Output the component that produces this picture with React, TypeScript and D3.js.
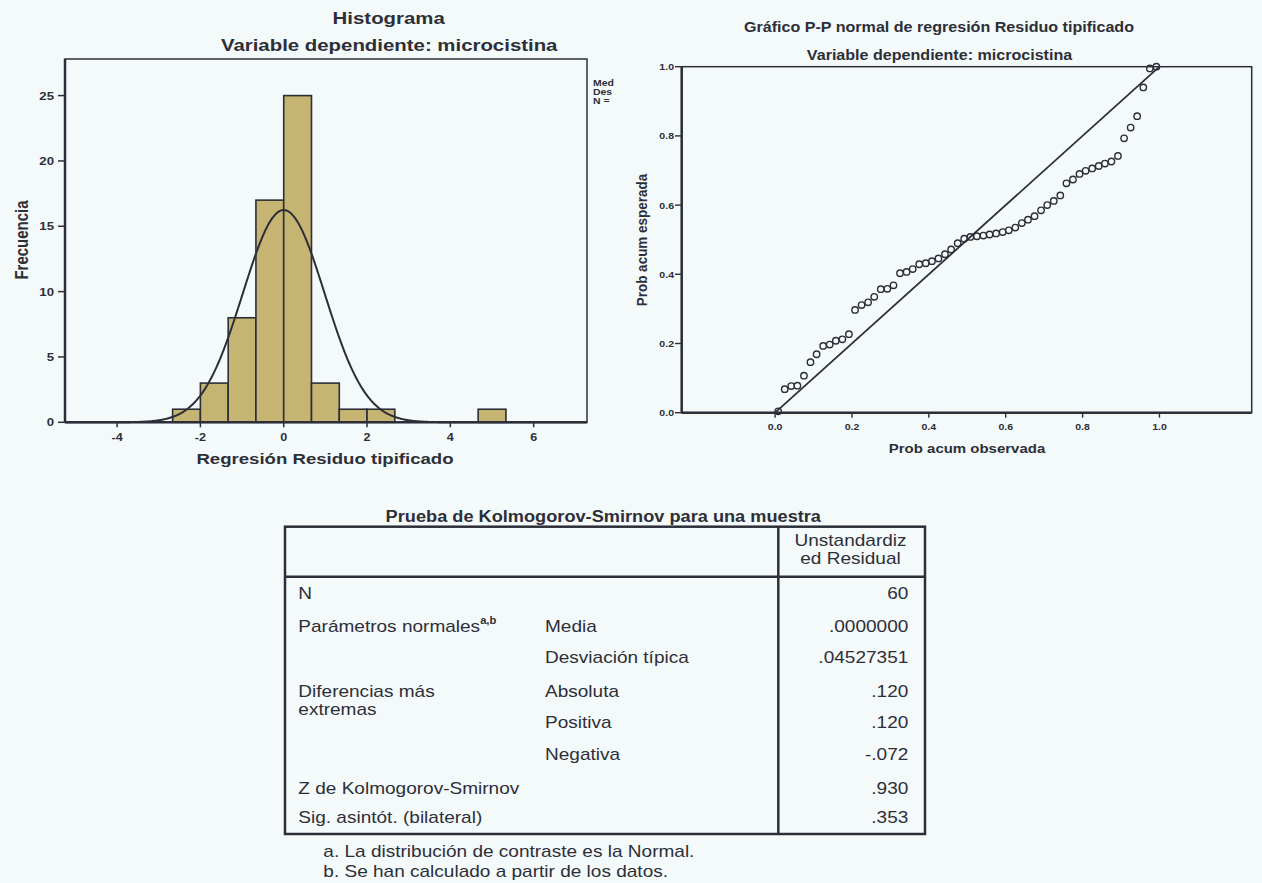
import React from 'react';
import * as d3 from 'd3';

const W = 1262;
const H = 883;
const FONT = "'Liberation Sans', Arial, Helvetica, sans-serif";
const INK = '#2d2f38';
const BG = '#f4f9fa';
const BAR_FILL = '#c6b472';

// ---------- Histogram data ----------
const histTitle = 'Histograma';
const depTitle = 'Variable dependiente: microcistina';
const histXLabel = 'Regresión Residuo tipificado';
const histYLabel = 'Frecuencia';
const binStarts = [-2.667, -2.0, -1.333, -0.667, 0, 0.667, 1.333, 2.0, 4.667];
const binWidth = 0.667;
const binCounts = [1, 3, 8, 17, 25, 3, 1, 1, 1];
const histXTicks = [-4, -2, 0, 2, 4, 6];
const histYTicks = [0, 5, 10, 15, 20, 25];
const normalMean = 0;
const normalSd = 0.983;
const nObs = 60;
const legendLines = ['Med', 'Des', 'N ='];

// ---------- P-P plot data ----------
const ppTitle = 'Gráfico P-P normal de regresión Residuo tipificado';
const ppXLabel = 'Prob acum observada';
const ppYLabel = 'Prob acum esperada';
const ppTicks = [0, 0.2, 0.4, 0.6, 0.8, 1.0];
const obsProb = [
  0.008, 0.025, 0.042, 0.058, 0.075, 0.092, 0.108, 0.125, 0.142, 0.158,
  0.175, 0.192, 0.208, 0.225, 0.242, 0.258, 0.275, 0.292, 0.308, 0.325,
  0.342, 0.358, 0.375, 0.392, 0.408, 0.425, 0.442, 0.458, 0.475, 0.492,
  0.508, 0.525, 0.542, 0.558, 0.575, 0.592, 0.608, 0.625, 0.642, 0.658,
  0.675, 0.692, 0.708, 0.725, 0.742, 0.758, 0.775, 0.792, 0.808, 0.825,
  0.842, 0.858, 0.875, 0.892, 0.908, 0.925, 0.942, 0.958, 0.975, 0.992,
];
const expProb = [
  0.004, 0.068, 0.077, 0.078, 0.107, 0.146, 0.169, 0.193, 0.197, 0.208,
  0.212, 0.227, 0.297, 0.311, 0.319, 0.335, 0.357, 0.358, 0.368, 0.403,
  0.407, 0.415, 0.429, 0.432, 0.438, 0.446, 0.458, 0.472, 0.490, 0.503,
  0.508, 0.510, 0.512, 0.515, 0.518, 0.522, 0.527, 0.535, 0.548, 0.558,
  0.568, 0.585, 0.600, 0.612, 0.628, 0.663, 0.674, 0.690, 0.699, 0.706,
  0.713, 0.720, 0.726, 0.742, 0.793, 0.824, 0.857, 0.940, 0.995, 1.000,
];

// ---------- Table data ----------
const tableTitle = 'Prueba de Kolmogorov-Smirnov para una muestra';
const colHeader = ['Unstandardiz', 'ed Residual'];
const rowLabels = ['N', 'Parámetros normales', '', 'Diferencias más', '', '', 'Z de Kolmogorov-Smirnov', 'Sig. asintót. (bilateral)'];
const rowLabelSup = ['', 'a,b', '', '', '', '', '', ''];
const rowLabelCont = ['', '', '', 'extremas', '', '', '', ''];
const subLabels = ['', 'Media', 'Desviación típica', 'Absoluta', 'Positiva', 'Negativa', '', ''];
const rowValues = ['60', '.0000000', '.04527351', '.120', '.120', '-.072', '.930', '.353'];
const footnotes = ['a. La distribución de contraste es la Normal.', 'b. Se han calculado a partir de los datos.'];

type TP = {
  x: number; y: number; size: number; sx?: number; bold?: boolean;
  anchor?: 'start' | 'middle' | 'end'; rot?: number; fill?: string; children: React.ReactNode;
};
function T({ x, y, size, sx = 1, bold = false, anchor = 'start', rot = 0, fill = INK, children }: TP) {
  return (
    <text
      transform={`translate(${x},${y}) scale(${sx},1)${rot ? ` rotate(${rot})` : ''}`}
      fontFamily={FONT}
      fontSize={size}
      fontWeight={bold ? 'bold' : 'normal'}
      textAnchor={anchor}
      fill={fill}
    >
      {children}
    </text>
  );
}

function Histogram() {
  const L = 65, R = 587, TOP = 59, B = 422.3;
  const x = d3.scaleLinear().domain([-5.25, 7.28]).range([L, R]);
  const y = d3.scaleLinear().domain([0, 27.8]).range([B, TOP]);
  const sx = 1.2;
  const pdf = (v: number) => Math.exp(-0.5 * ((v - normalMean) / normalSd) ** 2) / (normalSd * Math.sqrt(2 * Math.PI));
  const xs = d3.range(-5.25, 7.2801, 0.02);
  const line = d3.line<number>().x((v) => x(v)).y((v) => y(nObs * binWidth * pdf(v)));
  return (
    <g>
      <T x={388.7} y={23.5} size={17} sx={sx} bold anchor="middle">{histTitle}</T>
      <T x={389.2} y={50.5} size={17} sx={sx} bold anchor="middle">{depTitle}</T>
      <rect x={L} y={TOP} width={R - L} height={B - TOP} fill="none" stroke={INK} strokeWidth={1.5} />
      {binStarts.map((s, i) => (
        <rect key={i} x={x(s)} y={y(binCounts[i])} width={x(s + binWidth) - x(s)} height={y(0) - y(binCounts[i])}
          fill={BAR_FILL} stroke={INK} strokeWidth={1.6} />
      ))}
      <path d={line(xs) || ''} fill="none" stroke={INK} strokeWidth={2} />
      <line x1={L} x2={L} y1={TOP} y2={B} stroke={INK} strokeWidth={2.5} />
      <line x1={L} x2={R} y1={B} y2={B} stroke={INK} strokeWidth={2.5} />
      {histYTicks.map((t) => (
        <g key={t}>
          <line x1={58} x2={L} y1={y(t)} y2={y(t)} stroke={INK} strokeWidth={1.5} />
          <T x={54} y={y(t) + 4} size={11} sx={sx} bold anchor="end">{t}</T>
        </g>
      ))}
      {histXTicks.map((t) => (
        <g key={t}>
          <line x1={x(t)} x2={x(t)} y1={B} y2={B + 5} stroke={INK} strokeWidth={1.5} />
          <T x={x(t)} y={440.5} size={10.5} sx={sx} bold anchor="middle">{t}</T>
        </g>
      ))}
      <T x={325} y={463.5} size={15.5} sx={sx} bold anchor="middle">{histXLabel}</T>
      <T x={28} y={240} size={15} sx={sx} bold anchor="middle" rot={-90}>{histYLabel}</T>
      {legendLines.map((s, i) => (
        <T key={s} x={593} y={86 + i * 9} size={9.5} sx={1.1} bold>{s}</T>
      ))}
    </g>
  );
}

function PPPlot() {
  const L = 681.7, R = 1251.7, TOP = 66.7, B = 412.7;
  const x = d3.scaleLinear().domain([-0.243, 1.24]).range([L, R]);
  const y = d3.scaleLinear().domain([0, 1]).range([B, TOP]);
  const sx = 1.11;
  const fmt = d3.format('.1f');
  return (
    <g>
      <T x={939} y={32} size={14.5} sx={sx} bold anchor="middle">{ppTitle}</T>
      <T x={939.5} y={60} size={14.5} sx={sx} bold anchor="middle">{depTitle}</T>
      <rect x={L} y={TOP} width={R - L} height={B - TOP} fill="none" stroke={INK} strokeWidth={1.5} />
      <line x1={L} x2={L} y1={TOP} y2={B} stroke={INK} strokeWidth={2.5} />
      <line x1={L} x2={R} y1={B} y2={B} stroke={INK} strokeWidth={2.5} />
      {ppTicks.map((t) => (
        <g key={'y' + t}>
          <line x1={675} x2={L} y1={y(t)} y2={y(t)} stroke={INK} strokeWidth={1.4} />
          <T x={674} y={y(t) + 3.5} size={9.5} sx={sx} bold anchor="end">{fmt(t)}</T>
        </g>
      ))}
      {ppTicks.map((t) => (
        <g key={'x' + t}>
          <line x1={x(t)} x2={x(t)} y1={B} y2={B + 5} stroke={INK} strokeWidth={1.4} />
          <T x={x(t)} y={430} size={9.5} sx={sx} bold anchor="middle">{fmt(t)}</T>
        </g>
      ))}
      <line x1={x(0)} y1={y(0)} x2={x(1)} y2={y(1)} stroke={INK} strokeWidth={1.8} />
      {obsProb.map((o, i) => (
        <circle key={i} cx={x(o)} cy={y(expProb[i])} r={3.2} fill="none" stroke={INK} strokeWidth={1.4} />
      ))}
      <T x={967} y={452.5} size={13.5} sx={sx} bold anchor="middle">{ppXLabel}</T>
      <T x={647} y={240} size={13.5} sx={sx} bold anchor="middle" rot={-90}>{ppYLabel}</T>
    </g>
  );
}

function KSTable() {
  const L = 285, R = 925, TOP = 526.7, B = 834, HDR = 576.7, DIV = 778.3;
  const sx = 1.12;
  const rowBase = [599, 631.5, 663, 696.5, 728, 759.5, 794, 823];
  return (
    <g>
      <T x={603.3} y={521.5} size={17} sx={1.07} bold anchor="middle">{tableTitle}</T>
      <rect x={L} y={TOP} width={R - L} height={B - TOP} fill="none" stroke={INK} strokeWidth={2.5} />
      <line x1={L} x2={R} y1={HDR} y2={HDR} stroke={INK} strokeWidth={2.5} />
      <line x1={DIV} x2={DIV} y1={TOP} y2={B} stroke={INK} strokeWidth={2.5} />
      <T x={850.5} y={546} size={17} sx={sx} anchor="middle">{colHeader[0]}</T>
      <T x={850.5} y={564} size={17} sx={sx} anchor="middle">{colHeader[1]}</T>
      {rowLabels.map((lab, i) => (
        <g key={i}>
          {lab && (
            <text transform={`translate(298.3,${rowBase[i]}) scale(${sx},1)`} fontFamily={FONT} fontSize={17} fill={INK}>
              {lab}
              {rowLabelSup[i] && <tspan fontSize={10} fontWeight="bold" dy={-8}>{rowLabelSup[i]}</tspan>}
            </text>
          )}
          {rowLabelCont[i] && <T x={298.3} y={rowBase[i] + 18.5} size={17} sx={sx}>{rowLabelCont[i]}</T>}
          {subLabels[i] && <T x={545} y={rowBase[i]} size={17} sx={sx}>{subLabels[i]}</T>}
          <T x={908.3} y={rowBase[i]} size={17} sx={sx} anchor="end">{rowValues[i]}</T>
        </g>
      ))}
      {footnotes.map((f, i) => (
        <T key={i} x={323.3} y={857 + i * 19.5} size={17} sx={sx}>{f}</T>
      ))}
    </g>
  );
}

export default function App() {
  return (
    <svg width={W} height={H} viewBox={`0 0 ${W} ${H}`} style={{ position: 'absolute', left: 0, top: 0, display: 'block' }}>
      <rect x={0} y={0} width={W} height={H} fill={BG} />
      <Histogram />
      <PPPlot />
      <KSTable />
    </svg>
  );
}
